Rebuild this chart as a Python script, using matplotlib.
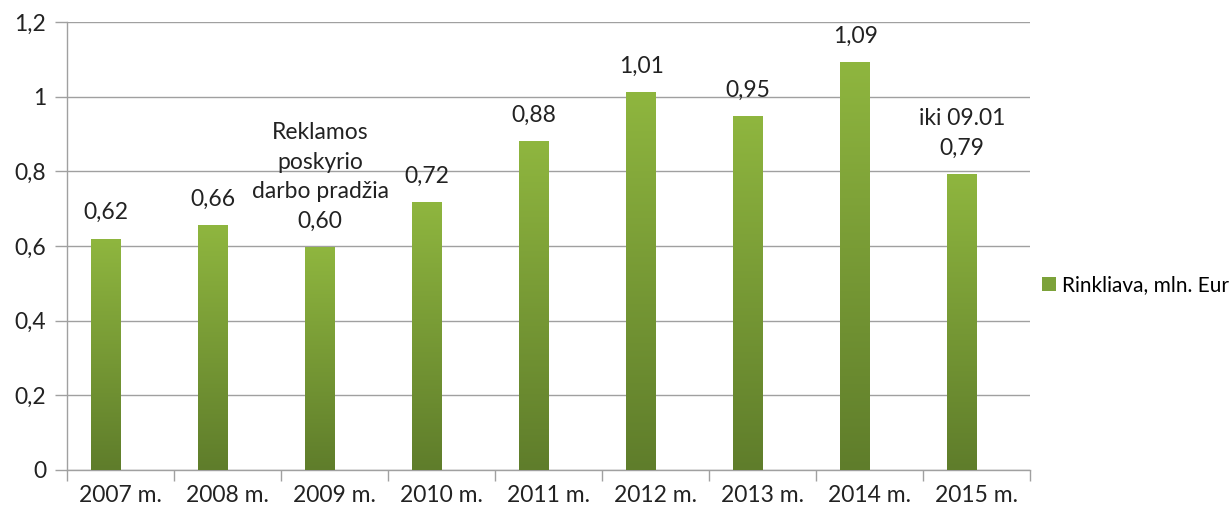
import matplotlib
matplotlib.use("Agg")
import matplotlib.pyplot as plt
import numpy as np
from matplotlib.colors import LinearSegmentedColormap
from matplotlib.patches import Patch

categories = ["2007 m.", "2008 m.", "2009 m.", "2010 m.", "2011 m.", "2012 m.", "2013 m.", "2014 m.", "2015 m."]
values = [0.62, 0.655, 0.597, 0.718, 0.881, 1.013, 0.948, 1.093, 0.793]
labels = ["0,62", "0,66", "Reklamos\nposkyrio\ndarbo pradžia\n0,60", "0,72", "0,88", "1,01", "0,95", "1,09", "iki 09.01\n0,79"]
yticks = [0, 0.2, 0.4, 0.6, 0.8, 1.0, 1.2]
ytick_labels = ["0", "0,2", "0,4", "0,6", "0,8", "1", "1,2"]
series_name = "Rinkliava, mln. Eur"

plt.rcParams['font.family'] = ['Lato', 'DejaVu Sans']

fig = plt.figure(figsize=(12.29, 5.14), dpi=100)
ax = fig.add_axes([67/1229, 1-470/514, (1030-67)/1229, (470-22)/514])

x = np.arange(len(categories))
width = 0.28
shift = -0.135
bars = ax.bar(x + shift, values, width=width, color="none", edgecolor="none", zorder=3)

cmap = LinearSegmentedColormap.from_list("g", ["#5f7d2b", "#8fb63f"])
grad = np.linspace(0, 1, 256).reshape(-1, 1)
for b in bars:
    x0, y0 = b.get_x(), b.get_y()
    w, h = b.get_width(), b.get_height()
    im = ax.imshow(grad, cmap=cmap, origin="lower", aspect="auto",
                   extent=(x0, x0 + w, y0, y0 + h), zorder=3)
    im.set_clip_path(b)

for xi, v, lab in zip(x + shift, values, labels):
    ax.annotate(lab, (xi, v), xytext=(0, 11), textcoords="offset points",
                ha="center", va="bottom", fontsize=16.5, color="#222222",
                linespacing=1.5, zorder=4)

ax.set_xlim(-0.5, len(categories) - 0.5)
ax.set_ylim(0, 1.2)
ax.set_yticks(yticks)
ax.set_yticklabels(ytick_labels, fontsize=16.5, color="#222222")
ax.set_xticks(x)
ax.set_xticklabels(categories, fontsize=16.5, color="#222222")
ax.tick_params(axis="x", length=0, pad=11)
ax.set_xticks(np.arange(-0.5, len(categories), 1), minor=True)
ax.tick_params(axis="x", which="minor", length=8, color="#a0a0a0", width=1)
ax.tick_params(axis="y", length=9, color="#a0a0a0", width=1, pad=6)
ax.grid(axis="y", color="#a0a0a0", linewidth=1, zorder=0)
ax.set_axisbelow(True)
for s in ["top", "right"]:
    ax.spines[s].set_visible(False)
for s in ["left", "bottom"]:
    ax.spines[s].set_color("#a0a0a0")
    ax.spines[s].set_linewidth(1)

handle = Patch(facecolor="#7ca23a", edgecolor="none")
fig.legend([handle], [series_name], loc="center left", bbox_to_anchor=(1042/1229, 1-285/514),
           frameon=False, fontsize=15, handlelength=0.65, handleheight=0.65, handletextpad=0.3,
           borderpad=0, borderaxespad=0)

fig.savefig("out.png", dpi=100)
